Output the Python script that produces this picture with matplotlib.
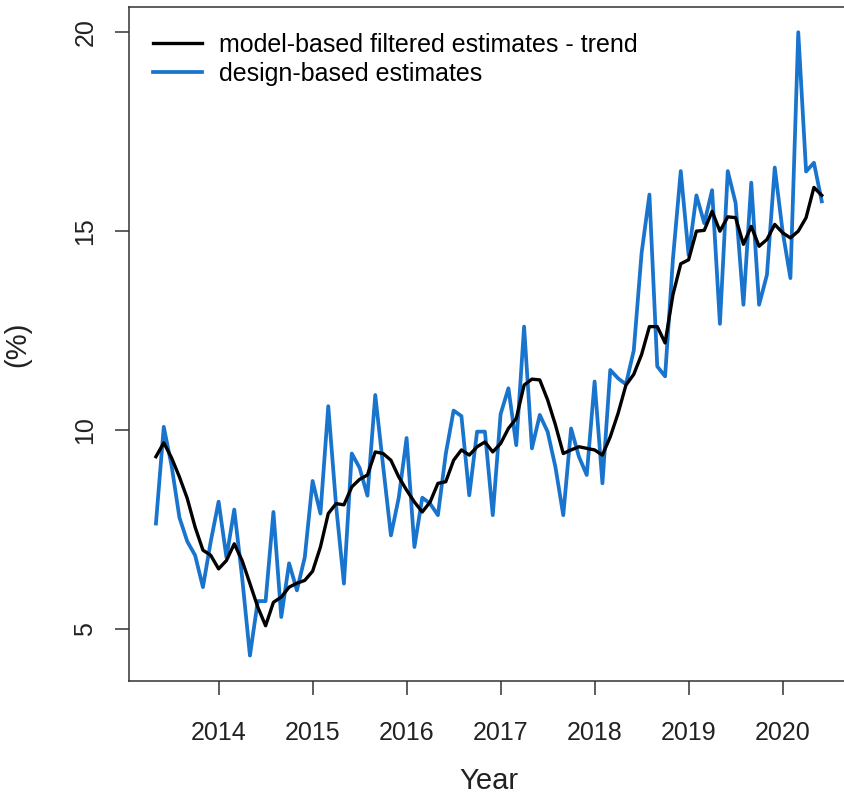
import numpy as np
import matplotlib
matplotlib.use("Agg")
import matplotlib.pyplot as plt

# monthly series, May 2013 - June 2020
start_year, start_month = 2013, 5

trend = [
    9.33, 9.68, 9.30, 8.82, 8.28, 7.56, 6.98, 6.85,
    6.51, 6.72, 7.14, 6.72, 6.14, 5.55, 5.08, 5.67, 5.80, 6.05, 6.15, 6.22,
    6.45, 7.06, 7.90, 8.15, 8.12, 8.57, 8.76, 8.87, 9.45, 9.41, 9.24, 8.82,
    8.49, 8.19, 7.94, 8.19, 8.66, 8.70, 9.24, 9.50, 9.37, 9.58, 9.70, 9.45,
    9.66, 10.04, 10.29, 11.13, 11.28, 11.26, 10.76, 10.13, 9.41, 9.50, 9.58, 9.54,
    9.50, 9.37, 9.83, 10.42, 11.13, 11.40, 11.90, 12.60, 12.60, 12.19, 13.40, 14.18,
    14.28, 15.00, 15.02, 15.50, 15.00, 15.36, 15.34, 14.67, 15.12, 14.62, 14.79, 15.17,
    14.96, 14.83, 15.00, 15.34, 16.10, 15.90,
]

design = [
    7.65, 10.08, 9.10, 7.80, 7.20, 6.85, 6.05, 7.20,
    8.20, 6.80, 8.00, 6.30, 4.33, 5.70, 5.70, 7.94, 5.30, 6.65, 5.97, 6.80,
    8.72, 7.90, 10.60, 8.10, 6.14, 9.41, 9.05, 8.35, 10.88, 9.10, 7.35, 8.30,
    9.80, 7.06, 8.30, 8.15, 7.86, 9.40, 10.49, 10.35, 8.36, 9.96, 9.96, 7.86,
    10.40, 11.05, 9.62, 12.60, 9.54, 10.38, 9.96, 9.07, 7.86, 10.04, 9.33, 8.87,
    11.22, 8.66, 11.51, 11.30, 11.15, 12.00, 14.45, 15.92, 11.60, 11.35, 14.30, 16.51,
    14.40, 15.90, 15.20, 16.03, 12.67, 16.51, 15.71, 13.15, 16.22, 13.15, 13.90, 16.60,
    15.00, 13.82, 20.00, 16.50, 16.72, 15.75,
]

year_ticks = [2014, 2015, 2016, 2017, 2018, 2019, 2020]
pct_ticks = [5, 10, 15, 20]

labels = ["model-based filtered estimates - trend", "design-based estimates"]

t = start_year + (start_month - 1 + np.arange(len(trend))) / 12.0

plt.rcParams["font.family"] = ["Liberation Sans", "DejaVu Sans"]
txt = "#222222"

fig = plt.figure(figsize=(8.44, 7.99), dpi=100)
ax = fig.add_axes([0.1532, 0.1483, 0.852, 0.8425])

l_design, = ax.plot(t, design, color="#1874CD", lw=2.7)
l_trend, = ax.plot(t, trend, color="black", lw=2.4)
ax.margins(x=0.04, y=0.04)

ax.set_xticks(year_ticks)
ax.set_xticklabels([str(y) for y in year_ticks])
ax.set_yticks(pct_ticks)
ax.set_yticklabels([str(p) for p in pct_ticks], rotation=90, va="center")
ax.tick_params(axis="both", length=10, width=1.1, color="#333333",
               labelsize=18, labelcolor=txt)
ax.tick_params(axis="x", pad=19)
ax.tick_params(axis="y", pad=13)
for s in ax.spines.values():
    s.set_linewidth(1.1)
    s.set_color("#333333")

ax.set_xlabel("Year", fontsize=21, color=txt, labelpad=16)
ax.set_ylabel("(%)", fontsize=21, color=txt, labelpad=30)

ax.legend([l_trend, l_design], labels, loc="upper left",
          bbox_to_anchor=(0.033, 0.962), frameon=False, fontsize=18,
          handlelength=1.95, handletextpad=0.7, labelspacing=0.2,
          borderpad=0, borderaxespad=0)

fig.savefig("out.png", dpi=100)
